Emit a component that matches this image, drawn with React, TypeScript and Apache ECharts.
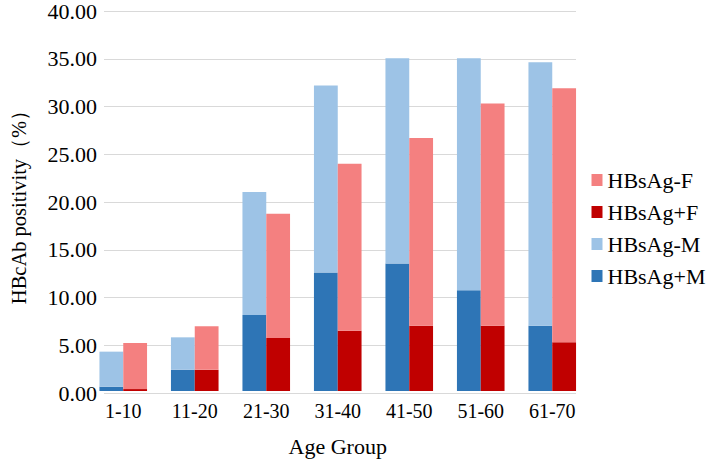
import React, { useEffect, useRef } from "react";
import * as echarts from "echarts";

const categories = ["1-10", "11-20", "21-30", "31-40", "41-50", "51-60", "61-70"];
const hbsagPosM = [0.45, 2.22, 7.95, 12.4, 13.36, 10.55, 6.84];
const hbsagNegM = [3.67, 3.4, 12.88, 19.6, 21.49, 24.3, 27.59];
const hbsagPosF = [0.2, 2.22, 5.55, 6.32, 6.84, 6.84, 5.1];
const hbsagNegF = [4.83, 4.55, 13.02, 17.48, 19.66, 23.26, 26.6];
const legendOrder = ["HBsAg-F", "HBsAg+F", "HBsAg-M", "HBsAg+M"];

const FONT = "Liberation Serif";

export default function App() {
  const ref = useRef<HTMLDivElement>(null);
  useEffect(() => {
    if (!ref.current) return;
    const chart = echarts.init(ref.current, null, { renderer: "svg" });
    const barW = 23.8;
    const bar = (name: string, stack: string, color: string, data: number[]) => ({
      name,
      type: "bar",
      stack,
      xAxisIndex: 1,
      yAxisIndex: 1,
      barWidth: barW,
      barGap: "0%",
      itemStyle: { color },
      data,
    });
    chart.setOption({
      animation: false,
      backgroundColor: "#ffffff",
      textStyle: { fontFamily: FONT, color: "#000" },
      legend: {
        data: legendOrder,
        orient: "vertical",
        left: 591.5,
        top: 169,
        padding: 0,
        itemWidth: 11,
        itemHeight: 12,
        itemGap: 10,
        icon: "rect",
        textStyle: { fontFamily: FONT, fontSize: 22, color: "#000" },
      },
      grid: [
        { left: 99, right: 133, top: 9, bottom: 69 },
        { left: 87.5, right: 121, top: 9, bottom: 69 },
      ],
      xAxis: [
        { type: "category", gridIndex: 0, data: categories, show: false },
        {
          type: "category",
          gridIndex: 1,
          data: categories,
          axisLine: { show: false },
          axisTick: { show: false },
          axisLabel: { fontFamily: FONT, fontSize: 20, color: "#000", margin: 10 },
          name: "Age Group",
          nameLocation: "middle",
          nameGap: 44,
          nameTextStyle: { fontFamily: FONT, fontSize: 22, color: "#000" },
        },
      ],
      yAxis: [
        {
          type: "value",
          gridIndex: 0,
          min: 0,
          max: 40,
          interval: 5,
          axisLine: { show: false },
          axisTick: { show: false },
          splitLine: { show: true, lineStyle: { color: "#d9d9d9", width: 1 } },
          axisLabel: {
            fontFamily: FONT,
            fontSize: 22,
            color: "#000",
            margin: 7,
            formatter: (v: number) => v.toFixed(2),
          },
          name: "HBcAb positivity（%）",
          nameLocation: "middle",
          nameGap: 75,
          nameTextStyle: { fontFamily: FONT, fontSize: 20.5, color: "#000" },
        },
        { type: "value", gridIndex: 1, min: 0, max: 40, interval: 5, show: false },
      ],
      series: [
        bar("HBsAg+M", "M", "#2E75B6", hbsagPosM),
        bar("HBsAg-M", "M", "#9DC3E6", hbsagNegM),
        bar("HBsAg+F", "F", "#C00000", hbsagPosF),
        bar("HBsAg-F", "F", "#F48080", hbsagNegF),
      ],
    });
    return () => chart.dispose();
  }, []);
  return (
    <div
      ref={ref}
      style={{ position: "absolute", left: 0, top: 0, width: 709, height: 462 }}
    />
  );
}
